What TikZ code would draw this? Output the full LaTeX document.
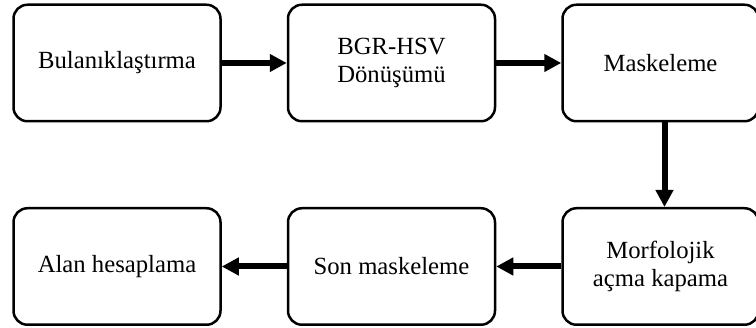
\documentclass[tikz,border=0pt]{standalone}
\usepackage{fontspec}
\setmainfont{Liberation Serif}
\usetikzlibrary{positioning,arrows.meta}

\begin{document}
\begin{tikzpicture}[x=1pt, y=1pt, node distance=84.5pt and 65pt]
      \tikzstyle{stage} = [draw, line width=2.5pt, rounded corners=14pt,
        minimum width=207pt, minimum height=116.5pt, align=center,
        font=\fontsize{24.7}{28}\selectfont]
      \tikzstyle{flow} = [line width=6pt, -{Triangle[length=17pt,width=17pt]}]
      \useasboundingbox (0,0) rectangle (756,328);
      % top row
      \node (blur) [stage] at (117,265) {Bulanıklaştırma};
      \node (hsv) [stage, right=of blur] {BGR-HSV\\Dönüşümü};
      \node (mask) [stage, minimum width=196pt, right=of hsv] {Maskeleme};
      % bottom row
      \node (morph) [stage, minimum width=196pt, below=of mask] {Morfolojik\\açma kapama};
      \node (lastmask) [stage, left=of morph] {Son maskeleme};
      \node (area) [stage, left=of lastmask] {Alan hesaplama};
      \draw[flow] (blur) -- (hsv);
      \draw[flow] (hsv) -- (mask);
      \draw[flow] ([xshift=4pt]mask.south) -- ([xshift=4pt]morph.north);
      \draw[flow] (morph) -- (lastmask);
      \draw[flow] (lastmask) -- (area);
\end{tikzpicture}
\end{document}
